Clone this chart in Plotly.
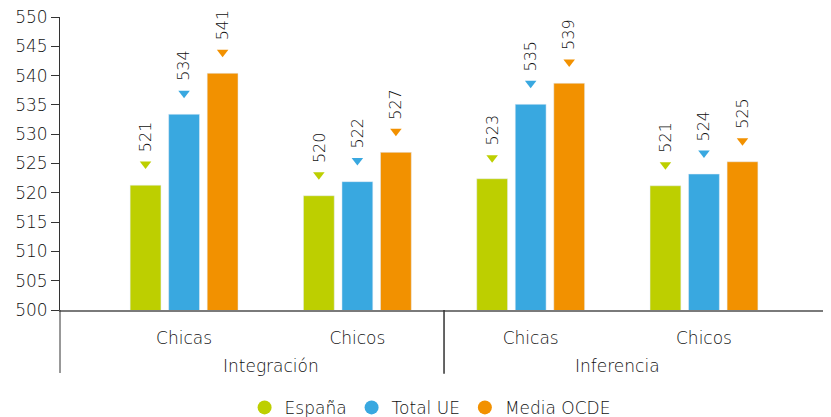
import plotly.graph_objects as go

groups = ["Integración", "Integración", "Inferencia", "Inferencia"]
categories = ["Chicas", "Chicos", "Chicas", "Chicos"]
series_names = ["España", "Total UE", "Media OCDE"]
values = {
    "España":     [521.3, 519.5, 522.4, 521.2],
    "Total UE":   [533.4, 521.9, 535.1, 523.2],
    "Media OCDE": [540.4, 526.9, 538.7, 525.3],
}
labels = {
    "España":     [521, 520, 523, 521],
    "Total UE":   [534, 522, 535, 524],
    "Media OCDE": [541, 527, 539, 525],
}
colors = {"España": "#BDCF00", "Total UE": "#39A8E0", "Media OCDE": "#F29100"}
y_ticks = list(range(500, 551, 5))

FONT = "DejaVu Sans"
W = 200
TXT = "#111111"
bargap = 0.333
slot = (1 - bargap) / len(series_names)
marker_off = 3.6

def f(size):
    return dict(family=FONT, size=size, color=TXT, weight=W)

idx = list(range(len(categories)))
fig = go.Figure()
annotations = []
for k, name in enumerate(series_names):
    fig.add_trace(go.Bar(x=idx, y=values[name], name=name, marker_color=colors[name],
                         showlegend=False, hoverinfo="skip"))
    xs = [i + (k - 1) * slot for i in idx]
    fig.add_trace(go.Scatter(x=xs, y=[v + marker_off for v in values[name]], mode="markers",
                             marker=dict(symbol="triangle-down", size=10, color=colors[name]),
                             showlegend=False, hoverinfo="skip"))
    fig.add_trace(go.Scatter(x=[None], y=[None], mode="markers", name=name,
                             marker=dict(symbol="circle", size=14, color=colors[name])))
    for x, v, lab in zip(xs, values[name], labels[name]):
        annotations.append(dict(x=x, y=v, xref="x", yref="y", text=str(lab), textangle=-90,
                                showarrow=False, yanchor="bottom", yshift=31, font=f(16)))

# group labels
for g in dict.fromkeys(groups):
    pos = [i for i, gg in enumerate(groups) if gg == g]
    annotations.append(dict(x=sum(pos) / len(pos), y=-0.19, xref="x", yref="paper", text=g,
                            showarrow=False, yanchor="middle", font=f(17)))

shapes = [
    dict(type="line", xref="paper", yref="paper", x0=0, x1=0, y0=-0.215, y1=0,
         line=dict(color="#333333", width=1)),
    dict(type="line", xref="x", yref="paper", x0=1.5, x1=1.5, y0=-0.218, y1=0,
         line=dict(color="#333333", width=1.5)),
]

# the page body has an 8px margin, so the figure is sized/offset to compensate
fig.update_layout(
    width=823, height=409,
    margin=dict(l=52, r=0, t=9, b=107, autoexpand=False),
    barmode="group", bargap=bargap, bargroupgap=0.2,
    plot_bgcolor="white", paper_bgcolor="white",
    font=f(17),
    xaxis=dict(range=[-0.716, 3.733], tickvals=idx, ticktext=categories, ticks="",
               showgrid=False, zeroline=False, showline=True, linecolor="#7a7a7a", linewidth=1.5,
               tickfont=f(17), ticklabelstandoff=12, automargin=False),
    yaxis=dict(range=[500, 550], tickvals=y_ticks, ticks="outside", ticklen=8, tickcolor="#333333",
               showgrid=False, zeroline=False, showline=True, linecolor="#333333", linewidth=1,
               tickfont=f(17), automargin=False, ticklabeloverflow="allow"),
    legend=dict(orientation="h", x=0.48, xanchor="center", y=-0.334, yanchor="middle",
                font=f(17), itemsizing="trace"),
    annotations=annotations, shapes=shapes,
)

fig.write_html("out.html")
